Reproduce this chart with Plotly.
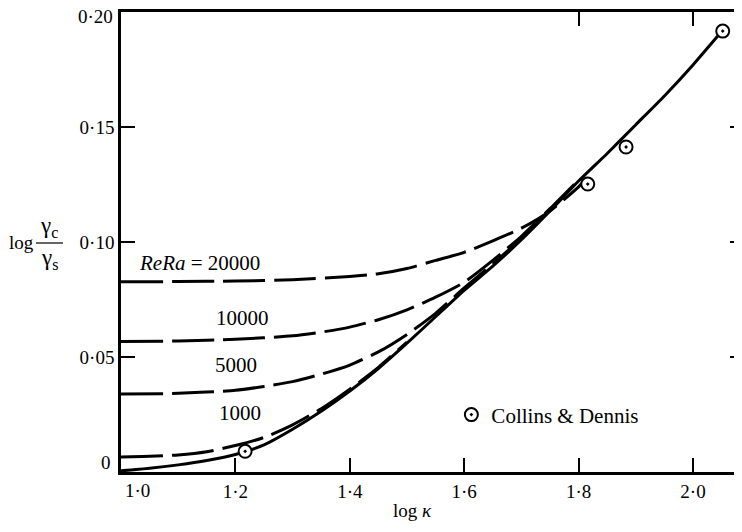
import plotly.graph_objects as go

# ---------------- data ----------------
solid_x = [1.00, 1.05, 1.10, 1.15, 1.20, 1.25, 1.30, 1.35, 1.40, 1.45, 1.50, 1.55, 1.60,
           1.65, 1.70, 1.75, 1.80, 1.85, 1.90, 1.95, 2.00, 2.05]
solid_y = [0.0005, 0.0016, 0.0031, 0.0050, 0.0076, 0.0118, 0.0186, 0.0264, 0.0352, 0.0450,
           0.0560, 0.0675, 0.0790, 0.0895, 0.1010, 0.1135, 0.1265, 0.1385, 0.1510, 0.1635,
           0.1770, 0.1915]

re20000_x = [1.00, 1.10, 1.20, 1.30, 1.40, 1.45, 1.50, 1.55, 1.60, 1.65, 1.70, 1.75, 1.80, 1.815]
re20000_y = [0.0827, 0.0828, 0.0830, 0.0836, 0.0850, 0.0862, 0.0885, 0.0920, 0.0955, 0.1005,
             0.1060, 0.1135, 0.1240, 0.1280]

re10000_x = [1.00, 1.10, 1.20, 1.30, 1.35, 1.40, 1.45, 1.50, 1.55, 1.60, 1.65, 1.70, 1.75, 1.80]
re10000_y = [0.0567, 0.0570, 0.0577, 0.0592, 0.0608, 0.0630, 0.0662, 0.0705, 0.0760, 0.0825,
             0.0920, 0.1025, 0.1145, 0.1270]

re5000_x = [1.00, 1.10, 1.20, 1.25, 1.30, 1.35, 1.40, 1.45, 1.50, 1.55, 1.60, 1.65, 1.70, 1.75]
re5000_y = [0.0339, 0.0342, 0.0355, 0.0372, 0.0393, 0.0425, 0.0465, 0.0522, 0.0598, 0.0690,
            0.0800, 0.0905, 0.1015, 0.1140]

re1000_x = [1.00, 1.05, 1.10, 1.15, 1.20, 1.25, 1.30, 1.35, 1.40, 1.45, 1.50]
re1000_y = [0.0065, 0.0068, 0.0074, 0.0088, 0.0115, 0.0150, 0.0205, 0.0275, 0.0360, 0.0455,
            0.0565]

collins_x = [1.217, 1.816, 1.883, 2.052]
collins_y = [0.0090, 0.1252, 0.1413, 0.1917]

x_tickvals = [1.2, 1.4, 1.6, 1.8, 2.0]
x_ticktext = ["1·2", "1·4", "1·6", "1·8", "2·0"]
y_tickvals = [0.05, 0.10, 0.15]
y_ticktext = ["0·05", "0·10", "0·15"]
top_tickvals = [1.8, 2.0]
right_tickvals = [0.05, 0.10, 0.15]

curve_labels = [
    ("<i>ReRa</i> = 20000", 1.028, 0.0909, "left"),
    ("10000", 1.213, 0.0670, "center"),
    ("5000", 1.201, 0.0465, "center"),
    ("1000", 1.208, 0.0257, "center"),
]

# ---------------- figure ----------------
FONT = "Liberation Serif, Times New Roman, serif"
X_RANGE = [1.0, 2.0857]
Y_RANGE = [0.0, 0.2]
DASH = "42px,9px"

fig = go.Figure()

for xs, ys in [(re20000_x, re20000_y), (re10000_x, re10000_y),
               (re5000_x, re5000_y), (re1000_x, re1000_y)]:
    fig.add_trace(go.Scatter(x=xs, y=ys, mode="lines", showlegend=False,
                             line=dict(color="black", width=3, dash=DASH, shape="spline",
                                       smoothing=0.6),
                             hoverinfo="skip"))

fig.add_trace(go.Scatter(x=solid_x, y=solid_y, mode="lines", showlegend=False,
                         line=dict(color="black", width=3, shape="spline", smoothing=0.6),
                         hoverinfo="skip"))

fig.add_trace(go.Scatter(x=collins_x, y=collins_y, mode="markers", name="Collins & Dennis",
                         marker=dict(symbol="circle-dot", size=13, color="white",
                                     line=dict(color="black", width=2)),
                         showlegend=True))

# invisible trace to activate the mirrored top / right axes
fig.add_trace(go.Scatter(x=solid_x, y=solid_y, xaxis="x2", yaxis="y2", mode="lines",
                         line=dict(width=0), opacity=0, showlegend=False, hoverinfo="skip"))

# the page body adds an 8px offset: plot area spans window x 121..742, y 12..472
fig.update_layout(
    template="none",
    width=734, height=524,
    margin=dict(l=113, r=0, t=4, b=60, autoexpand=False),
    paper_bgcolor="white", plot_bgcolor="white",
    font=dict(family=FONT, size=19, color="black"),
    xaxis=dict(range=X_RANGE, tickvals=x_tickvals, ticktext=x_ticktext, automargin=False,
               ticks="inside", ticklen=14, tickwidth=1.5, tickcolor="black",
               ticklabeloverflow="allow",
               showline=True, linecolor="black", linewidth=2.5,
               showgrid=False, zeroline=False, tickfont=dict(size=19, family=FONT)),
    yaxis=dict(range=Y_RANGE, tickvals=y_tickvals, ticktext=y_ticktext, automargin=False,
               ticks="inside", ticklen=14, tickwidth=1.5, tickcolor="black",
               ticklabeloverflow="allow",
               showline=True, linecolor="black", linewidth=2.5,
               showgrid=False, zeroline=False, tickfont=dict(size=19, family=FONT)),
    xaxis2=dict(range=X_RANGE, overlaying="x", side="top", anchor="y", automargin=False,
                tickvals=top_tickvals, ticks="inside", ticklen=14, tickwidth=1.5,
                tickcolor="black", showticklabels=False, showline=True,
                linecolor="black", linewidth=3, showgrid=False, zeroline=False),
    yaxis2=dict(range=Y_RANGE, overlaying="y", side="right", anchor="x", automargin=False,
                tickvals=right_tickvals, ticks="inside", ticklen=12, tickwidth=1.5,
                tickcolor="black", showticklabels=False, showline=False,
                showgrid=False, zeroline=False),
    legend=dict(x=0.532, y=0.124, xanchor="left", yanchor="middle",
                bgcolor="rgba(0,0,0,0)", borderwidth=0,
                font=dict(family=FONT, size=21, color="black")),
    showlegend=True,
)

for text, x, y, anchor in curve_labels:
    fig.add_annotation(x=x, y=y, xref="x", yref="y", text=text, showarrow=False,
                       xanchor=anchor, yanchor="middle",
                       font=dict(family=FONT, size=21, color="black"))

# tick labels at the ends that are offset in the original drawing
fig.add_annotation(x=1.0, y=0, xref="x", yref="paper", text="1·0", showarrow=False,
                   xanchor="center", yanchor="top", xshift=16, yshift=-6,
                   font=dict(family=FONT, size=19))
fig.add_annotation(x=0, y=0.0, xref="paper", yref="y", text="0", showarrow=False,
                   xanchor="right", yanchor="middle", xshift=-8, yshift=10,
                   font=dict(family=FONT, size=19))
fig.add_annotation(x=0, y=0.2, xref="paper", yref="y", text="0·20", showarrow=False,
                   xanchor="right", yanchor="middle", xshift=-6, yshift=-4,
                   font=dict(family=FONT, size=19))

# axis titles
fig.add_annotation(x=(412 - 121) / 621, y=0, xref="paper", yref="paper",
                   text="log <i>κ</i>", showarrow=False, xanchor="center",
                   yanchor="middle", yshift=-38, font=dict(family=FONT, size=19))
fig.add_annotation(x=(21 - 121) / 621, y=0.5, xref="paper", yref="paper",
                   text="log", showarrow=False, xanchor="center", yanchor="middle",
                   font=dict(family=FONT, size=19))
fig.add_annotation(x=(49 - 121) / 621, y=0.5, xref="paper", yref="paper",
                   text="γ<sub>c</sub>", showarrow=False, xanchor="center",
                   yanchor="bottom", yshift=-1, font=dict(family=FONT, size=23))
fig.add_annotation(x=(49 - 121) / 621, y=0.5, xref="paper", yref="paper",
                   text="γ<sub>s</sub>", showarrow=False, xanchor="center",
                   yanchor="top", yshift=-1, font=dict(family=FONT, size=23))
fig.add_shape(type="line", xref="paper", yref="paper",
              x0=(36 - 121) / 621, x1=(63 - 121) / 621,
              y0=(472 - 243) / 460, y1=(472 - 243) / 460,
              line=dict(color="black", width=1.2))

fig.write_html("out.html")
